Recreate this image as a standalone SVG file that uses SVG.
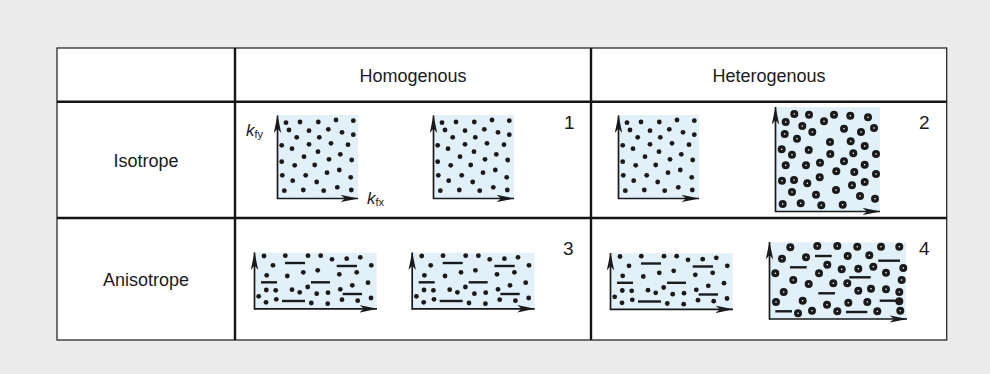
<svg xmlns="http://www.w3.org/2000/svg" xmlns:xlink="http://www.w3.org/1999/xlink" width="990" height="374" viewBox="0 0 990 374">
<style>
.lbl{font-family:"Liberation Sans",Arial,sans-serif;font-size:18px;fill:#1a1a1a;text-anchor:middle}
.num{font-family:"Liberation Sans",Arial,sans-serif;font-size:19px;fill:#1a1a1a}
.ax{font-family:"Liberation Sans",Arial,sans-serif;font-size:17px;fill:#1a1a1a}
.sub{font-size:11px;font-style:normal}
.pl{fill:#e2f0fa;stroke:none}
.axis{stroke:#1a1a1a;stroke-width:1.7;fill:none;marker-end:url(#arr)}
.d circle{fill:#1a1a1a}
.bar{stroke:#1a1a1a;stroke-width:2.4}
.grid{stroke:#141414;stroke-width:2.4;fill:none}
</style>
<defs>
<marker id="arr" viewBox="0 0 18 8" refX="17.5" refY="4" markerWidth="18" markerHeight="8" markerUnits="userSpaceOnUse" orient="auto">
<path d="M0,0.3 L18,4 L0,7.7 L4.5,4 Z" fill="#1a1a1a"/>
</marker>
<g id="ring"><circle r="4" fill="#1a1a1a"/><circle r="0.8" fill="#fff"/></g>
<g id="isoSmall">
<rect class="pl" x="278" y="115" width="80" height="83"/>
<g class="d">
<circle cx="286" cy="122.7" r="2.4"/><circle cx="300" cy="122" r="2.4"/><circle cx="318.3" cy="122" r="2.4"/><circle cx="336" cy="120" r="2.4"/><circle cx="353.3" cy="120.7" r="2.4"/>
<circle cx="289" cy="130" r="2.4"/><circle cx="309" cy="130.7" r="2.4"/><circle cx="328.3" cy="129.3" r="2.4"/><circle cx="342" cy="132.3" r="2.4"/><circle cx="353.3" cy="134.7" r="2.4"/>
<circle cx="296.7" cy="137.3" r="2.4"/><circle cx="319.3" cy="137.3" r="2.4"/>
<circle cx="281.7" cy="145.3" r="2.4"/><circle cx="292" cy="148.7" r="2.4"/><circle cx="309" cy="144.3" r="2.4"/><circle cx="331" cy="143.3" r="2.4"/><circle cx="348" cy="144.7" r="2.4"/>
<circle cx="318" cy="151.7" r="2.4"/><circle cx="304" cy="156.7" r="2.4"/><circle cx="340.3" cy="154.3" r="2.4"/>
<circle cx="281.7" cy="161.7" r="2.4"/><circle cx="294.7" cy="165.3" r="2.4"/><circle cx="329" cy="159.3" r="2.4"/><circle cx="351.7" cy="160" r="2.4"/><circle cx="314.7" cy="165" r="2.4"/>
<circle cx="282.3" cy="175.3" r="2.4"/><circle cx="305.7" cy="175.3" r="2.4"/><circle cx="327" cy="172.7" r="2.4"/><circle cx="339.3" cy="170" r="2.4"/><circle cx="350.7" cy="177.3" r="2.4"/>
<circle cx="292.7" cy="180.7" r="2.4"/><circle cx="316.7" cy="182" r="2.4"/>
<circle cx="284.3" cy="190.7" r="2.4"/><circle cx="303.3" cy="190" r="2.4"/><circle cx="323.7" cy="190.7" r="2.4"/><circle cx="337.3" cy="187.3" r="2.4"/><circle cx="351.3" cy="190" r="2.4"/>
</g>
<line class="axis" x1="277.5" y1="199" x2="277.5" y2="115.5"/>
<line class="axis" x1="277" y1="198.5" x2="358" y2="198.5"/>
</g>
<g id="anisoSmall">
<rect class="pl" x="254" y="252.7" width="122.7" height="56"/>
<g class="d">
<circle cx="264" cy="256" r="2.4"/><circle cx="285.3" cy="255.7" r="2.4"/><circle cx="308" cy="255.7" r="2.4"/><circle cx="320.7" cy="255.7" r="2.4"/><circle cx="332" cy="259.3" r="2.4"/><circle cx="346.7" cy="258.7" r="2.4"/><circle cx="360.3" cy="257.3" r="2.4"/>
<circle cx="273" cy="265.3" r="2.4"/><circle cx="371.3" cy="265.3" r="2.4"/>
<circle cx="266.7" cy="275.3" r="2.4"/><circle cx="287.3" cy="276" r="2.4"/><circle cx="303.3" cy="272.3" r="2.4"/><circle cx="317.7" cy="270.3" r="2.4"/><circle cx="339.3" cy="274.3" r="2.4"/><circle cx="356.7" cy="272.3" r="2.4"/>
<circle cx="266.3" cy="290" r="2.4"/><circle cx="275.7" cy="290.3" r="2.4"/><circle cx="292" cy="289.7" r="2.4"/><circle cx="299.7" cy="292.3" r="2.4"/><circle cx="307.7" cy="287" r="2.4"/><circle cx="316.7" cy="293.7" r="2.4"/><circle cx="328" cy="292.7" r="2.4"/><circle cx="340.3" cy="289.3" r="2.4"/><circle cx="352.3" cy="285.3" r="2.4"/><circle cx="368" cy="282.7" r="2.4"/>
<circle cx="258.7" cy="296.3" r="2.4"/>
<circle cx="266" cy="302.3" r="2.4"/><circle cx="276.3" cy="299.3" r="2.4"/><circle cx="311.3" cy="303" r="2.4"/><circle cx="327.7" cy="303.7" r="2.4"/><circle cx="342" cy="299.7" r="2.4"/><circle cx="357.7" cy="300.7" r="2.4"/><circle cx="371" cy="298" r="2.4"/>
</g>
<line class="bar" x1="285" y1="263" x2="305" y2="263"/>
<line class="bar" x1="336.7" y1="266" x2="357" y2="266"/>
<line class="bar" x1="261" y1="282.3" x2="277" y2="282.3"/>
<line class="bar" x1="311" y1="282.3" x2="330" y2="282.3"/>
<line class="bar" x1="342.7" y1="294" x2="362" y2="294"/>
<line class="bar" x1="282" y1="301" x2="305" y2="301"/>
<line class="axis" x1="254.5" y1="309.5" x2="254.5" y2="252.5"/>
<line class="axis" x1="254" y1="308.8" x2="377" y2="308.8"/>
</g>
</defs>
<rect x="0" y="0" width="990" height="374" fill="#ebeceb"/>
<g id="table">
<rect x="57" y="48" width="889.7" height="292" fill="#fff" stroke="#2a2a2a" stroke-width="1.3"/>
<line class="grid" x1="57" y1="101.7" x2="946.7" y2="101.7"/>
<line class="grid" x1="57" y1="218" x2="946.7" y2="218"/>
<line class="grid" x1="235" y1="48" x2="235" y2="340"/>
<line class="grid" x1="591" y1="48" x2="591" y2="340"/>
</g>
<g id="header-homogenous"><text class="lbl" x="413" y="82">Homogenous</text></g>
<g id="header-heterogenous"><text class="lbl" x="769" y="82">Heterogenous</text></g>
<g id="row-isotrope"><text class="lbl" x="146" y="166.5">Isotrope</text></g>
<g id="row-anisotrope"><text class="lbl" x="146" y="285.5">Anisotrope</text></g>
<g id="cell1">
<use xlink:href="#isoSmall"/>
<use xlink:href="#isoSmall" transform="translate(156,0)"/>
<text class="ax" x="246" y="136"><tspan font-style="italic">k</tspan><tspan class="sub" dy="2">fy</tspan></text>
<text class="ax" x="367" y="204"><tspan font-style="italic">k</tspan><tspan class="sub" dy="2">fx</tspan></text>
<text class="num" x="564" y="129">1</text>
</g>
<g id="cell2">
<use xlink:href="#isoSmall" transform="translate(341,0)"/>
<rect class="pl" x="775" y="107" width="105" height="104.5"/>
<use xlink:href="#ring" x="794.3" y="114"/><use xlink:href="#ring" x="809" y="114.7"/><use xlink:href="#ring" x="834" y="114.7"/><use xlink:href="#ring" x="850.3" y="115.7"/><use xlink:href="#ring" x="868" y="117.3"/>
<use xlink:href="#ring" x="785.7" y="122"/><use xlink:href="#ring" x="802.3" y="126"/><use xlink:href="#ring" x="824" y="121.3"/><use xlink:href="#ring" x="844" y="128.7"/><use xlink:href="#ring" x="861" y="132"/><use xlink:href="#ring" x="874" y="128"/>
<use xlink:href="#ring" x="784.7" y="134"/><use xlink:href="#ring" x="812.3" y="132"/>
<use xlink:href="#ring" x="797" y="138.7"/><use xlink:href="#ring" x="830" y="142"/><use xlink:href="#ring" x="850.7" y="141.3"/><use xlink:href="#ring" x="864.7" y="146"/>
<use xlink:href="#ring" x="781.7" y="149.3"/><use xlink:href="#ring" x="808.7" y="150"/><use xlink:href="#ring" x="792" y="154.7"/><use xlink:href="#ring" x="830.3" y="154"/><use xlink:href="#ring" x="853.3" y="153.3"/><use xlink:href="#ring" x="876" y="154"/>
<use xlink:href="#ring" x="785.7" y="165.3"/><use xlink:href="#ring" x="806" y="165.3"/><use xlink:href="#ring" x="820" y="162.7"/><use xlink:href="#ring" x="844" y="161.3"/><use xlink:href="#ring" x="864.7" y="164.7"/>
<use xlink:href="#ring" x="836.3" y="171.3"/><use xlink:href="#ring" x="854.3" y="172"/><use xlink:href="#ring" x="876" y="174"/>
<use xlink:href="#ring" x="782" y="180.7"/><use xlink:href="#ring" x="794" y="180"/><use xlink:href="#ring" x="807.3" y="183.3"/><use xlink:href="#ring" x="819.7" y="177.3"/><use xlink:href="#ring" x="852" y="185.3"/><use xlink:href="#ring" x="864.7" y="182"/>
<use xlink:href="#ring" x="792" y="192"/><use xlink:href="#ring" x="816" y="194.7"/><use xlink:href="#ring" x="836" y="190"/><use xlink:href="#ring" x="860" y="196"/><use xlink:href="#ring" x="875" y="198.7"/>
<use xlink:href="#ring" x="782.7" y="204"/><use xlink:href="#ring" x="800.7" y="203.3"/><use xlink:href="#ring" x="821.3" y="205.3"/><use xlink:href="#ring" x="842.7" y="204.7"/>
<line class="axis" x1="775.5" y1="212" x2="775.5" y2="107"/>
<line class="axis" x1="775" y1="211.5" x2="880" y2="211.5"/>
<text class="num" x="919" y="129">2</text>
</g>
<g id="cell3">
<use xlink:href="#anisoSmall"/>
<use xlink:href="#anisoSmall" transform="translate(157.7,0)"/>
<text class="num" x="563" y="255">3</text>
</g>
<g id="cell4">
<use xlink:href="#anisoSmall" transform="translate(356,0.5)"/>
<rect class="pl" x="769" y="242.3" width="137" height="77"/>
<use xlink:href="#ring" x="790.3" y="247.3"/><use xlink:href="#ring" x="817.3" y="246"/><use xlink:href="#ring" x="837.3" y="246"/><use xlink:href="#ring" x="857.3" y="246.7"/><use xlink:href="#ring" x="881" y="246.7"/><use xlink:href="#ring" x="899.3" y="246.7"/>
<use xlink:href="#ring" x="782" y="258.7"/><use xlink:href="#ring" x="806" y="257.3"/><use xlink:href="#ring" x="847.7" y="256"/><use xlink:href="#ring" x="869.3" y="255.3"/>
<use xlink:href="#ring" x="827.3" y="264.7"/><use xlink:href="#ring" x="841.7" y="269.3"/><use xlink:href="#ring" x="858.3" y="268.7"/><use xlink:href="#ring" x="873.3" y="266.7"/><use xlink:href="#ring" x="886" y="272.7"/><use xlink:href="#ring" x="903.3" y="268"/>
<use xlink:href="#ring" x="775.3" y="273.3"/><use xlink:href="#ring" x="819" y="273.3"/>
<use xlink:href="#ring" x="793.3" y="280"/><use xlink:href="#ring" x="808.7" y="284"/><use xlink:href="#ring" x="833.3" y="283.3"/><use xlink:href="#ring" x="847.3" y="283.3"/><use xlink:href="#ring" x="901.7" y="280"/>
<use xlink:href="#ring" x="858.3" y="290.7"/><use xlink:href="#ring" x="871" y="288.7"/><use xlink:href="#ring" x="886" y="289.3"/><use xlink:href="#ring" x="899.3" y="292"/>
<use xlink:href="#ring" x="783.7" y="292"/>
<use xlink:href="#ring" x="802.7" y="300.7"/><use xlink:href="#ring" x="827" y="304.7"/><use xlink:href="#ring" x="848.3" y="302.7"/><use xlink:href="#ring" x="867.3" y="302"/><use xlink:href="#ring" x="899.3" y="301.3"/>
<use xlink:href="#ring" x="776" y="302"/>
<use xlink:href="#ring" x="798" y="313.3"/><use xlink:href="#ring" x="812" y="310.7"/><use xlink:href="#ring" x="837.3" y="311.3"/><use xlink:href="#ring" x="877.3" y="311.3"/><use xlink:href="#ring" x="900.3" y="310.7"/>
<line class="bar" x1="815" y1="256" x2="831.7" y2="256"/>
<line class="bar" x1="878.3" y1="260.7" x2="900" y2="260.7"/>
<line class="bar" x1="790" y1="267.3" x2="806.7" y2="267.3"/>
<line class="bar" x1="849.3" y1="277.3" x2="870.7" y2="277.3"/>
<line class="bar" x1="818.3" y1="293.3" x2="835" y2="293.3"/>
<line class="bar" x1="879.7" y1="300.7" x2="900.7" y2="300.7"/>
<line class="bar" x1="775.3" y1="311.3" x2="792" y2="311.3"/>
<line class="bar" x1="846" y1="312" x2="867.3" y2="312"/>
<line class="axis" x1="769.5" y1="319.5" x2="769.5" y2="242"/>
<line class="axis" x1="769" y1="319" x2="907" y2="319"/>
<text class="num" x="919" y="255">4</text>
</g>
</svg>
